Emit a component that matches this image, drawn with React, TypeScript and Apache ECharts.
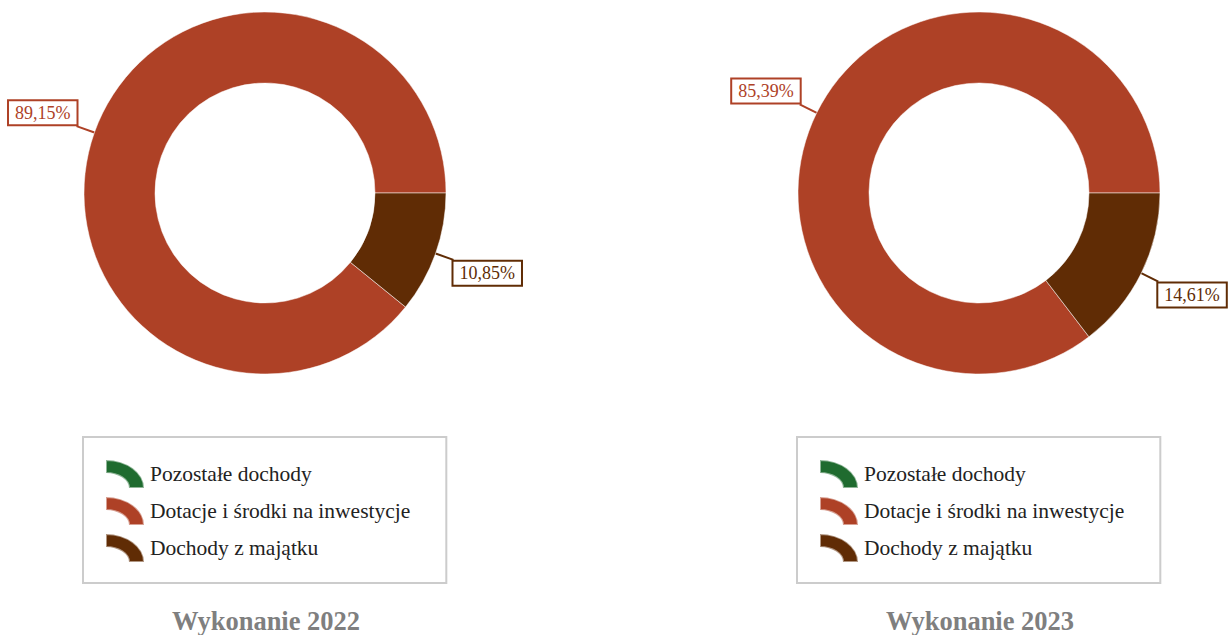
import React, { useEffect, useRef } from "react";
import * as echarts from "echarts";

const categories = ["Pozostałe dochody", "Dotacje i środki na inwestycje", "Dochody z majątku"];
const values2022 = [0, 89.15, 10.85];
const values2023 = [0, 85.39, 14.61];
const colors = ["#1f6b2f", "#ae4126", "#602c05"];
const titles = ["Wykonanie 2022", "Wykonanie 2023"];

const FONT = "'Liberation Serif', 'Times New Roman', serif";
const ICON = "path://M0,0 A38,28 0 0 1 38,28 L23,28 A23,15 0 0 0 0,13 Z";

const fmt = (v: number) => v.toFixed(2).replace(".", ",") + "%";

function makeSeries(values: number[], cx: number) {
  return {
    type: "pie",
    center: [cx, 193],
    radius: [110, 181],
    startAngle: 0,
    clockwise: false,
    silent: true,
    avoidLabelOverlap: false,
    emphasis: { disabled: true },
    itemStyle: { borderColor: "rgba(255,255,255,0.5)", borderWidth: 1 },
    label: {
      show: true,
      position: "outside",
      formatter: (p: any) => fmt(p.value),
      fontFamily: FONT,
      fontSize: 18,
      lineHeight: 20,
      backgroundColor: "#ffffff",
      borderWidth: 2,
      padding: [2, 6, 1, 6],
      distanceToLabelLine: 0,
    },
    labelLine: { show: true, length: 19, length2: 0, lineStyle: { width: 2 } },
    labelLayout: (params: any) => {
      const pts = params.labelLinePoints;
      if (!pts || !params.labelRect) return {};
      const endY = pts[2][1];
      const h = params.labelRect.height;
      const up = pts[2][1] < pts[0][1];
      return {
        y: up ? endY - h / 2 : endY + h / 2,
        labelLinePoints: pts,
      };
    },
    data: categories.map((name, i) => ({
      name,
      value: values[i],
      itemStyle: { color: colors[i] },
      label: { show: values[i] > 0, color: colors[i], borderColor: colors[i] },
      labelLine: { show: values[i] > 0, lineStyle: { color: colors[i] } },
    })),
  };
}

function makeLegend(left: number) {
  return {
    orient: "vertical",
    left,
    top: 437,
    padding: [22, 36, 20, 22],
    borderColor: "#cccccc",
    borderWidth: 2,
    itemWidth: 38,
    itemHeight: 28,
    itemGap: 7,
    icon: ICON,
    selectedMode: false,
    textStyle: { fontFamily: FONT, fontSize: 21.5, color: "#222222", padding: [4, 0, 0, 1] },
    data: categories,
  };
}

function makeTitle(text: string, cx: number) {
  return {
    text,
    left: cx,
    top: 607,
    textAlign: "center",
    padding: 0,
    textStyle: { fontFamily: FONT, fontSize: 26.5, fontWeight: "bold", color: "#7f7f7f" },
  };
}

export default function App() {
  const ref = useRef<HTMLDivElement>(null);
  useEffect(() => {
    if (!ref.current) return;
    const chart = echarts.init(ref.current, undefined, { renderer: "svg" });
    chart.setOption({
      animation: false,
      backgroundColor: "#ffffff",
      title: [makeTitle(titles[0], 266), makeTitle(titles[1], 980)],
      legend: [makeLegend(83), makeLegend(797)],
      series: [makeSeries(values2022, 265), makeSeries(values2023, 979)],
    });
    return () => chart.dispose();
  }, []);
  return (
    <div
      ref={ref}
      style={{ position: "absolute", left: 0, top: 0, width: 1228, height: 635 }}
    />
  );
}
